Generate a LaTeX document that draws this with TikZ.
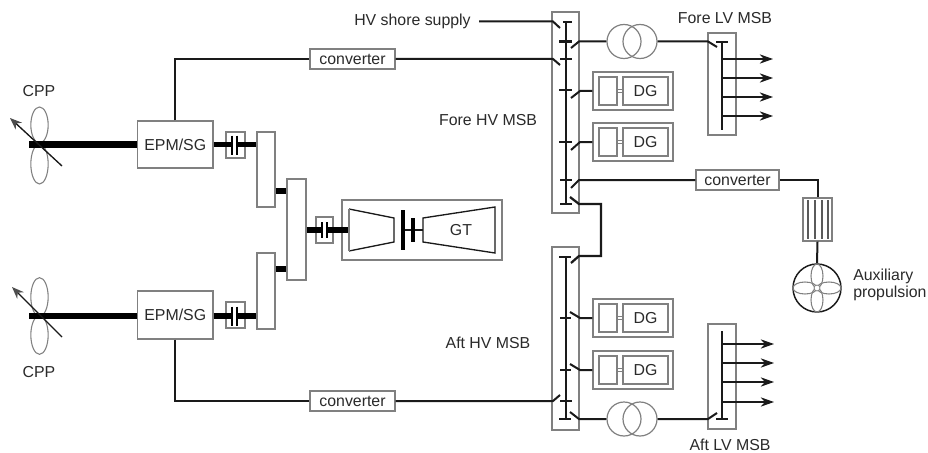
\documentclass[tikz,border=0pt]{standalone}
\usepackage{fontspec}
\setmainfont{Liberation Sans}
\usetikzlibrary{shapes.geometric,arrows.meta,calc}
\definecolor{edge}{HTML}{808080}
\definecolor{ink}{HTML}{1A1A1A}
\definecolor{txt}{HTML}{2A2A2A}
\tikzset{
  x=0.75pt,y=-0.75pt,
  box/.style={draw=edge,fill=white,line width=.9pt,inner sep=0pt,text=txt,font=\fontsize{11.9}{13}\selectfont},
  lbl/.style={inner sep=0pt,text=txt,font=\fontsize{11.9}{14}\selectfont,align=left},
  blade/.style={ellipse,draw=edge,fill=white,line width=.8pt,inner sep=0pt},
  pblade/.style={ellipse,draw=edge,line width=.8pt,inner sep=0pt},
  trafo/.style={circle,draw=edge,line width=.9pt,minimum size=25.5pt,inner sep=0pt},
  wire/.style={draw=ink,line width=1.5pt},
  thinw/.style={draw=ink,line width=1pt},
  shaft/.style={draw=black,line width=4.6pt},
  shaftb/.style={draw=black,line width=4.2pt},
  bar/.style={draw=black,line width=2.2pt},
  bus/.style={draw=ink,line width=2pt},
  tick/.style={draw=ink,line width=1.8pt},
  pitch/.style={draw=ink,line width=1pt,-{Stealth[length=9pt,width=7pt,color=edge!60!black]}},
  feed/.style={draw=ink,line width=1pt,-{Stealth[length=10pt,width=7pt]}},
}
\newcommand{\bx}[6][]{%
  \pgfmathsetmacro{\cxx}{(#3+#5)/2}\pgfmathsetmacro{\cyy}{(#4+#6)/2}%
  \pgfmathsetmacro{\wdd}{(#5-#3)*0.75}\pgfmathsetmacro{\htt}{(#6-#4)*0.75}%
  \node[box,minimum width=\wdd pt,minimum height=\htt pt] (#2) at (\cxx,\cyy) {#1};}
\newcommand{\dgset}[2]{% name, top of outer box
  \bx{#1}{593}{#2}{673}{(#2+38)}
  \bx{#1a}{599}{(#2+5)}{617}{(#2+33)}
  \bx[DG]{#1b}{623}{(#2+5)}{668}{(#2+33)}
  \draw[draw=edge,line width=.7pt] ($(#1a.east)+(0,-1.7)$) -- ($(#1b.west)+(0,-1.7)$);
  \draw[draw=edge,line width=.7pt] ($(#1a.east)+(0,1.7)$) -- ($(#1b.west)+(0,1.7)$);
}
\begin{document}
\begin{tikzpicture}
\useasboundingbox[fill=white] (0,0) rectangle (928,453);

% propellers
\node[blade,minimum width=13pt,minimum height=27pt] (b1t) at (39.5,125) {};
\node[blade,minimum width=13pt,minimum height=30pt] (b1b) at (39.5,164) {};
\node[blade,minimum width=13pt,minimum height=29pt] (b2t) at (39.5,297) {};
\node[blade,minimum width=13pt,minimum height=29pt] (b2b) at (39.5,335) {};
\node[lbl] (cpp1) at (39,91) {CPP};
\node[lbl] (cpp2) at (39,372) {CPP};

% gearboxes
\bx{g1}{257}{132}{275}{207}
\bx{g2}{287}{179}{306}{280}
\bx{g3}{257}{253}{275}{329}

% EPM/SG
\bx[EPM/SG]{epm1}{137.5}{121}{213}{168}
\bx[EPM/SG]{epm2}{137.5}{291}{213}{339}
\coordinate (s1) at (29,144.5);
\coordinate (s2) at (29,316);
\draw[shaft] (s1) -- (s1-|epm1.west);
\draw[shaft] (s2) -- (s2-|epm2.west);
\coordinate (a1s) at (62,166); \coordinate (a1e) at (10,118);
\coordinate (a2s) at (62,337); \coordinate (a2e) at (12,287);
\draw[pitch] (a1s) -- (a1e);
\draw[pitch] (a2s) -- (a2e);

% clutches
\bx{c1}{226}{132}{245}{158}
\bx{c2}{226}{302}{245}{328}
\bx{c3}{316}{217}{333}{243}
\draw[shaftb] (epm1.east|-s1) -- (232,144.5);
\draw[shaftb] (237,144.5) -- (g1.west|-s1);
\draw[shaftb] (epm2.east|-s2) -- (232,316);
\draw[shaftb] (237,316) -- (g3.west|-s2);
\draw[bar] (232,135.5) -- (232,154.5);
\draw[bar] (237,135.5) -- (237,154.5);
\draw[bar] (232,306.5) -- (232,325.5);
\draw[bar] (237,306.5) -- (237,325.5);

% gear links
\coordinate (l1) at (281,191);
\coordinate (l2) at (281,269);
\draw[shaft] (g1.east|-l1) -- (g2.west|-l1);
\draw[shaft] (g3.east|-l2) -- (g2.west|-l2);

% gas turbine set
\bx{gt}{342}{200}{502}{260}
\coordinate (gts) at (349,230);
\draw[shaftb] (g2.east|-gts) -- (322,230);
\draw[draw=black,line width=5pt] (327,230) -- (gts);
\draw[bar] (322,222) -- (322,238);
\draw[bar] (327,222) -- (327,238);
\draw[draw=ink,line width=1pt] (349,209) -- (394,218) -- (394,242) -- (349,251);
\draw[draw=edge,line width=1.4pt] (349,209) -- (349,251);
\draw[draw=ink,line width=1pt] (423,218) -- (495,207) -- (495,253) -- (423,242) -- cycle;
\node[lbl] (gtl) at (461,230) {GT};
\draw[thinw] (403,230) -- (423,230);
\draw[draw=black,line width=3.2pt] (403,210) -- (403,250);
\draw[draw=black,line width=3.2pt] (413,218) -- (413,242);

% switchboards
\bx{fhv}{552}{12}{579}{213}
\bx{ahv}{552}{247}{579}{430}
\bx{flv}{708}{33}{736}{135}
\bx{alv}{708}{324}{736}{429}

% HV buses
\coordinate (f0) at (566,22); \coordinate (f1) at (566,204);
\draw[bus] (f0) -- (f1);
\coordinate (a0) at (566,257); \coordinate (a1) at (566,419);
\draw[bus] (a0) -- (a1);
\foreach \y/\xa/\xb in {22/563/572,41.5/559/572,59/560/572,90/559/572,142/559/572,180/560/572,204/560/572,
                        257/559/571,318/560/571,370/560/571,401/560/572,419/559/571}{
  \draw[tick] (\xa,\y) -- (\xb,\y);
}

% DG sets
\dgset{dg1}{72}
\dgset{dg2}{123}
\dgset{dg3}{299}
\dgset{dg4}{351}

% transformers
\node[trafo] (t1a) at (624,41.5) {};
\node[trafo] (t1b) at (640,41.5) {};
\node[trafo] (t2a) at (624,419) {};
\node[trafo] (t2b) at (640,419) {};

% converters
\bx[converter]{cv1}{310}{49}{395}{69}
\bx[converter]{cv2}{310}{391}{395}{411}
\bx[converter]{cv3}{696}{170}{779}{190}

% HV shore
\node[lbl,anchor=west] (shore) at (354,21) {HV shore supply};
\coordinate (swh) at (553,21.5);
\draw[wire] (swh-|479,0) -- (swh) -- (560,28);

% converter feeds
\coordinate (sw1) at (553,59);
\draw[wire] (epm1.north) |- (cv1.west);
\draw[wire] (cv1.east) -- (sw1) -- (560,65);
\coordinate (sw2) at (553,401);
\draw[wire] (epm2.south) |- (cv2.west);
\draw[wire] (cv2.east) -- (sw2) -- (560,395);

% transformers to switchboards
\coordinate (sw3) at (579,41.5);
\draw[wire] (571,48) -- (sw3) -- (t1a.west);
\coordinate (sw4) at (708,41.5);
\draw[wire] (t1b.east) -- (sw4) -- (717,47);
\coordinate (sw5) at (579,419);
\draw[wire] (570,412) -- (sw5) -- (t2a.west);
\coordinate (sw6) at (708,419);
\draw[wire] (t2b.east) -- (sw6) -- (717,413);

% DG feeds
\coordinate (d1) at (580,91);
\draw[wire] (571,98) -- (d1) -- (dg1.west);
\coordinate (d2) at (580,142);
\draw[wire] (571,150) -- (d2) -- (dg2.west);
\coordinate (d3) at (580,318);
\draw[wire] (570,312) -- (d3) -- (dg3.west);
\coordinate (d4) at (580,370);
\draw[wire] (570,364) -- (d4) -- (dg4.west);

% bus tie
\coordinate (t1) at (579,204); \coordinate (t2) at (579,256);
\coordinate (t3) at (601,204); \coordinate (t4) at (601,256);
\draw[draw=ink,line width=1.7pt,line join=miter] (570,197) -- (t1) -- (t3) -- (t4) -- (t2) -- (571,263);

% auxiliary propulsion
\coordinate (c3sw) at (579,180);
\draw[wire] (571,188) -- (c3sw) -- (cv3.west);
\bx{filt}{803}{198}{832}{241}
\foreach \x in {808,815,822,828}{ \draw[draw=edge!70!black,line width=.8pt] (\x,200) -- (\x,239); }
\node[circle,draw=ink,line width=1.1pt,minimum size=36pt,inner sep=0pt] (prop) at (817,288) {};
\draw[wire] (cv3.east) -| (filt.north);
\draw[wire] (filt.south) -- (prop.north);
\node[pblade,minimum width=9pt,minimum height=18pt] (pn) at (817,276) {};
\node[pblade,minimum width=9pt,minimum height=18pt] (ps) at (817,300) {};
\node[pblade,minimum width=18pt,minimum height=9pt] (pw) at (805,288) {};
\node[pblade,minimum width=18pt,minimum height=9pt] (pe) at (829,288) {};
\node[circle,draw=edge,fill=white,line width=.6pt,minimum size=4.5pt,inner sep=0pt] (phub) at (817,288) {};
\node[lbl,anchor=west] (aux) at (853,285) {Auxiliary\\[-1.5pt]propulsion};

% LV buses
\coordinate (lf0) at (722,42); \coordinate (lf1) at (722,130);
\draw[bus] (lf0) -- (lf1);
\coordinate (la0) at (722,331); \coordinate (la1) at (722,419);
\draw[bus] (la0) -- (la1);
\draw[tick] (716,42) -- (728,42);
\draw[tick] (716,419) -- (728,419);
\foreach \y in {59,78,97,116}{ \draw[feed] (722,\y) -- (773,\y); }
\foreach \y in {344,363,382,402}{ \draw[feed] (722,\y) -- (774,\y); }

% labels
\node[lbl] (fl) at (725,18) {Fore LV MSB};
\node[lbl] (al) at (730,445) {Aft LV MSB};
\node[lbl] (fh) at (488,120) {Fore HV MSB};
\node[lbl] (ah) at (488,343) {Aft HV MSB};
\end{tikzpicture}
\end{document}
